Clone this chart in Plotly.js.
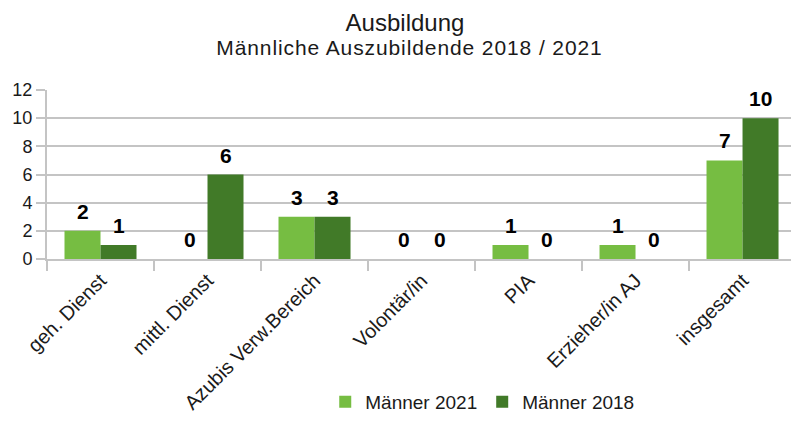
<!DOCTYPE html>
<html>
<head>
<meta charset="utf-8">
<script src="https://cdn.plot.ly/plotly-3.0.1.min.js"></script>
<style>
html,body{margin:0;padding:0;background:#fff;}
g.annotation[data-index="14"] text{letter-spacing:0.9px;}
</style>
</head>
<body>
<div id="chart" style="width:791px;height:421px;"></div>
<script>
const categories = ["geh. Dienst", "mittl. Dienst", "Azubis Verw.Bereich", "Volontär/in", "PIA", "Erzieher/in AJ", "insgesamt"];
const maenner2021 = [2, 0, 3, 0, 1, 1, 7];
const maenner2018 = [1, 6, 3, 0, 0, 0, 10];
const seriesNames = ["Männer 2021", "Männer 2018"];
const yTicks = [0, 2, 4, 6, 8, 10, 12];

const FONT = "Liberation Sans, Arial, sans-serif";
const GRID = "#c4c4c4";

const traces = [
  {type: "bar", name: seriesNames[0], x: categories, y: maenner2021,
   marker: {color: "#76bd42"}, hoverinfo: "none"},
  {type: "bar", name: seriesNames[1], x: categories, y: maenner2018,
   marker: {color: "#417a28"}, hoverinfo: "none"}
];

const annotations = [];
[maenner2021, maenner2018].forEach((vals, s) => {
  vals.forEach((v, i) => {
    annotations.push({
      x: categories[i], y: v, xref: "x", yref: "y",
      text: String(v), showarrow: false,
      xanchor: "center", yanchor: "bottom",
      xshift: s === 0 ? -18 : 18, yshift: 6,
      font: {family: FONT, size: 21, color: "#000", weight: "bold"}
    });
  });
});
annotations.push({
  xref: "paper", yref: "paper", x: 0.4866, y: 1.253,
  xanchor: "center", yanchor: "middle", showarrow: false,
  text: "Männliche Auszubildende 2018 / 2021",
  font: {family: FONT, size: 21, color: "#1a1a1a"}
});

const layout = {
  width: 791, height: 421,
  margin: {l: 47, r: 0, t: 90, b: 159, pad: 0},
  paper_bgcolor: "#fff", plot_bgcolor: "#fff",
  font: {family: FONT, color: "#1a1a1a"},
  title: {text: "Ausbildung", x: 0.512, xanchor: "center", xref: "container",
          y: 0.946, yanchor: "middle", yref: "container",
          font: {family: FONT, size: 24, color: "#1a1a1a"}},
  barmode: "group", bargap: 0.327, bargroupgap: 0,
  showlegend: true,
  legend: {orientation: "h", x: 0.585, xanchor: "center", y: -0.845, yanchor: "middle",
           font: {family: FONT, size: 19, color: "#1a1a1a"}, traceorder: "normal"},
  xaxis: {type: "category", range: [-0.5, 6.453], tickson: "boundaries",
          ticks: "outside", ticklen: 10, tickcolor: GRID, tickwidth: 2,
          showline: true, linecolor: GRID, linewidth: 2,
          tickangle: -45, tickfont: {family: FONT, size: 20, color: "#1a1a1a"},
          showgrid: false, automargin: false, fixedrange: true},
  yaxis: {range: [0, 12], tickvals: yTicks, ticktext: yTicks.map(String),
          ticks: "outside", ticklen: 9, tickcolor: GRID, tickwidth: 2,
          showline: true, linecolor: GRID, linewidth: 2,
          showgrid: true, gridcolor: GRID, gridwidth: 2, zeroline: false,
          tickfont: {family: FONT, size: 18, color: "#1a1a1a"},
          automargin: false, fixedrange: true},
  annotations: annotations
};

Plotly.newPlot("chart", traces, layout, {staticPlot: true, displayModeBar: false});
</script>
</body>
</html>
